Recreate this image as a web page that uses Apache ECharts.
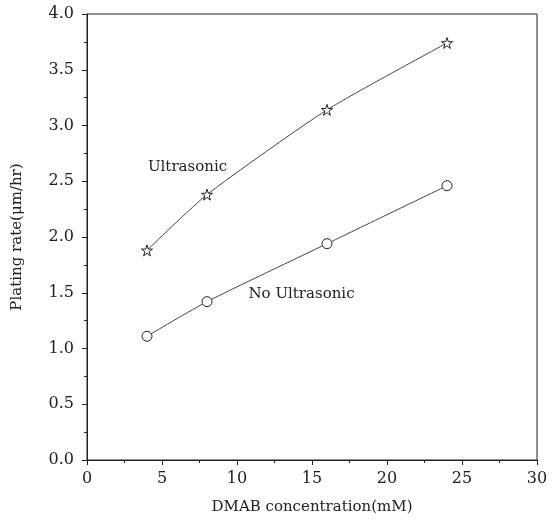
<!DOCTYPE html>
<html>
<head>
<meta charset="utf-8">
<script src="https://cdn.jsdelivr.net/npm/echarts@6/dist/echarts.min.js"></script>
<style>
  html, body { margin: 0; padding: 0; background: #fff; }
  #main { width: 557px; height: 521px; }
</style>
</head>
<body>
<div id="main"></div>
<script>
// DMAB concentration (mM)
var concentration = [4, 8, 16, 24];
// plating rate (um/hr)
var ultrasonic = [1.88, 2.38, 3.14, 3.74];
var noUltrasonic = [1.11, 1.42, 1.94, 2.46];

var starPath = 'path://M50,2 L61,36 L97,36 L68,57 L79,92 L50,70 L21,92 L32,57 L3,36 L39,36 Z';
var serif = '"DejaVu Serif", "Liberation Serif", serif';

function pairs(xs, ys) {
    var out = [];
    for (var i = 0; i < xs.length; i++) {
        out.push([xs[i], ys[i]]);
    }
    return out;
}

function note(text, x, y) {
    return {
        symbol: 'circle',
        symbolSize: 0,
        silent: true,
        data: [{
            coord: [x, y],
            label: {
                show: true,
                formatter: text,
                color: '#222',
                fontFamily: serif,
                fontSize: 15,
                position: 'inside'
            }
        }]
    };
}

var myChart = echarts.init(document.getElementById('main'));

var option = {
    animation: false,
    backgroundColor: '#fff',
    grid: {
        left: 87,
        right: 20,
        top: 14,
        bottom: 61,
        show: true,
        borderColor: '#222',
        borderWidth: 1
    },
    xAxis: {
        type: 'value',
        min: 0,
        max: 30,
        interval: 5,
        name: 'DMAB concentration(mM)',
        nameLocation: 'middle',
        nameGap: 40,
        nameTextStyle: { fontFamily: serif, fontSize: 15, color: '#222' },
        axisLine: { lineStyle: { color: '#222', width: 1 } },
        axisTick: { length: 5, lineStyle: { color: '#222' } },
        minorTick: { show: true, splitNumber: 2, length: 3, lineStyle: { color: '#222' } },
        axisLabel: { fontFamily: serif, fontSize: 16, color: '#222', margin: 11 },
        splitLine: { show: false }
    },
    yAxis: {
        type: 'value',
        min: 0,
        max: 4,
        interval: 0.5,
        name: 'Plating rate(μm/hr)',
        nameLocation: 'middle',
        nameGap: 62,
        nameTextStyle: { fontFamily: serif, fontSize: 15, color: '#222' },
        axisLine: { lineStyle: { color: '#222', width: 1 } },
        axisTick: { length: 5, lineStyle: { color: '#222' } },
        minorTick: { show: true, splitNumber: 2, length: 3, lineStyle: { color: '#222' } },
        axisLabel: {
            fontFamily: serif,
            fontSize: 16,
            color: '#222',
            margin: 13,
            formatter: function (v) { return v.toFixed(1); }
        },
        splitLine: { show: false }
    },
    series: [
        {
            name: 'Ultrasonic',
            type: 'line',
            smooth: 0.2,
            data: pairs(concentration, ultrasonic),
            symbol: starPath,
            symbolSize: 11,
            itemStyle: { color: '#fff', borderColor: '#222', borderWidth: 1 },
            lineStyle: { color: '#444', width: 1 },
            markPoint: note('Ultrasonic', 6.7, 2.63)
        },
        {
            name: 'No Ultrasonic',
            type: 'line',
            smooth: 0.2,
            data: pairs(concentration, noUltrasonic),
            symbol: 'circle',
            symbolSize: 10,
            itemStyle: { color: '#fff', borderColor: '#222', borderWidth: 1 },
            lineStyle: { color: '#444', width: 1 },
            markPoint: note('No Ultrasonic', 14.3, 1.49)
        }
    ]
};

myChart.setOption(option);
</script>
</body>
</html>
